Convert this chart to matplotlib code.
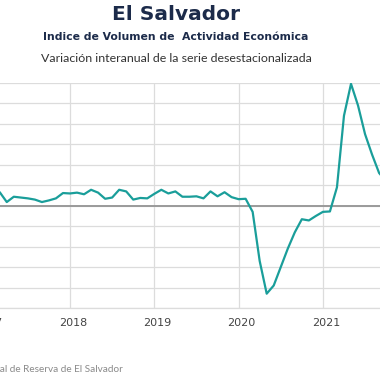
import numpy as np
import matplotlib
matplotlib.use('Agg')
import matplotlib.pyplot as plt
import matplotlib.transforms as mtransforms

# Monthly year-on-year change (%), Feb 2017 .. Oct 2021
start_year = 2017
start_month = 2
values = [
    3.0, 3.3, 0.9, 2.2, 2.0, 1.8, 1.5, 0.9, 1.3, 1.8, 3.1,   # Feb-Dec 2017
    3.0, 3.2, 2.8, 3.9, 3.2, 1.7, 2.0, 3.9, 3.5, 1.5, 1.9, 1.8,  # 2018
    2.9, 3.9, 3.0, 3.5, 2.2, 2.2, 2.3, 1.8, 3.5, 2.3, 3.3, 2.1,  # 2019
    1.6, 1.7, -1.5, -13.5, -21.5, -19.5, -15.0, -10.5, -6.5, -3.3, -3.6, -2.5,  # 2020
    -1.5, -1.4, 4.5, 22.0, 29.8, 24.5, 17.5, 12.5, 8.0, 6.0,  # Jan-Oct 2021
]
year_ticks = [2017, 2018, 2019, 2020, 2021]

title = 'El Salvador'
subtitle = 'Indice de Volumen de  Actividad Económica'
subtitle2 = 'Variación interanual de la serie desestacionalizada'
source = 'Fuente: Banco Central de Reserva de El Salvador'

line_color = '#1a9e9a'
navy = '#1c2b4a'

x = np.array([start_year + (start_month - 1 + i) / 12 for i in range(len(values))])

fig = plt.figure(figsize=(3.8, 3.8), dpi=100)
# plot area is wider than the figure (the reference is a crop of a wider chart)
ax = fig.add_axes([-60 / 380, 72 / 380, 500 / 380, 225 / 380])

ax.plot(x, values, color=line_color, linewidth=1.6, zorder=3,
        solid_joinstyle='round', solid_capstyle='round')
ax.axhline(0, color='#9a9a9a', linewidth=1.4, zorder=2)

ax.set_xlim(2018 - 130 / 84.3, 2018 + 370 / 84.3)
ax.set_ylim(-25, 30)
ax.set_yticks(np.arange(-25, 31, 5))
ax.set_xticks(year_ticks + [2022])
ax.set_xticklabels([str(y) for y in year_ticks] + [''])
ax.tick_params(axis='x', length=0, pad=7, labelsize=8, labelcolor='#444444')
ax.tick_params(axis='y', length=0, labelleft=False)
# year labels sit a few pixels right of their gridlines
shift = mtransforms.ScaledTranslation(3 / 100, 0, fig.dpi_scale_trans)
for lbl in ax.get_xticklabels():
    lbl.set_transform(lbl.get_transform() + shift)
ax.grid(True, color='#dcdcdc', linewidth=0.9, zorder=1)
for side in ['left', 'right', 'top']:
    ax.spines[side].set_visible(False)
ax.spines['bottom'].set_color('#dcdcdc')
ax.spines['bottom'].set_linewidth(0.9)

cx = 176 / 380
fig.text(cx, 1 - 15 / 380, title, ha='center', va='center',
         fontsize=14.5, fontweight='bold', color=navy, family='DejaVu Sans')
fig.text(cx, 1 - 37 / 380, subtitle, ha='center', va='center',
         fontsize=7.8, fontweight='bold', color=navy, family='DejaVu Sans')
fig.text(cx, 1 - 58 / 380, subtitle2, ha='center', va='center',
         fontsize=8.9, color='#333333', family='Lato')
fig.text(123 / 380, 1 - 370 / 380, source, ha='right', va='center',
         fontsize=7.2, color='#8a8a8a', family='Lato')

fig.savefig('out.png', dpi=100)
